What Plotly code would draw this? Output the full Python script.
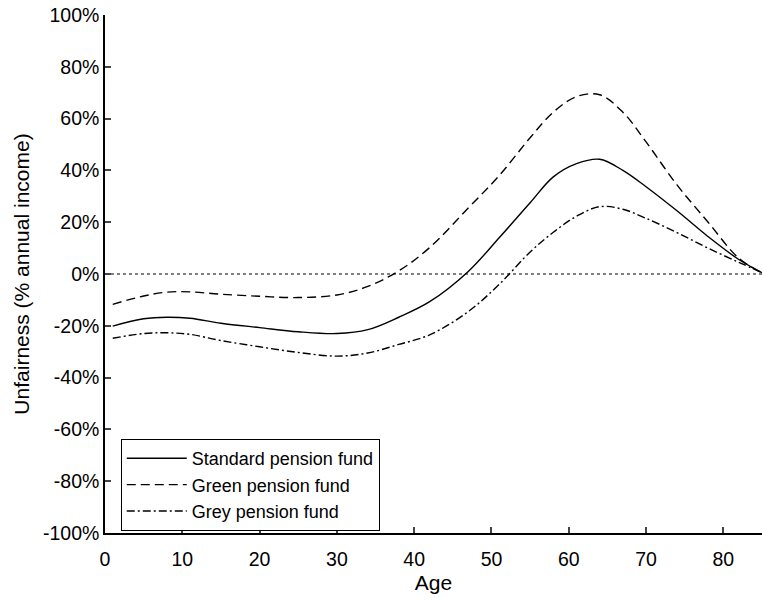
import plotly.graph_objects as go

ages = [1, 5, 8, 11, 15, 20, 25, 30, 34, 38, 42, 47, 51, 55, 58, 61, 64, 67, 70, 74, 78, 82, 85]
standard = [-20.1, -17.3, -16.7, -17.1, -19.0, -20.7, -22.3, -23.0, -21.5, -16.7, -10.7, 1.0,
            14.0, 27.5, 37.5, 42.6, 44.3, 40.0, 33.7, 24.4, 14.5, 5.6, 0.5]
green = [-11.7, -8.5, -7.0, -6.9, -7.8, -8.6, -9.1, -8.1, -4.8, 1.2, 10.2, 25.5,
         38.0, 52.6, 62.5, 68.5, 69.2, 62.5, 51.0, 34.4, 20.1, 6.1, 0.5]
grey = [-24.8, -23.0, -22.7, -23.3, -25.7, -28.1, -30.3, -31.7, -30.5, -27.2, -23.5, -14.5,
        -4.0, 8.5, 16.1, 22.3, 26.0, 25.0, 21.5, 16.0, 10.0, 4.5, 0.5]

names = ["Standard pension fund", "Green pension fund", "Grey pension fund"]
y_ticks = list(range(-100, 101, 20))
y_tick_labels = [f"{v}%" for v in y_ticks]
x_ticks = list(range(0, 81, 10))

FONT = "Liberation Sans, Arial, sans-serif"

fig = go.Figure()
for vals, name, dash in [(standard, names[0], "solid"),
                         (green, names[1], "9px,5px"),
                         (grey, names[2], "8px,3px,2px,3px")]:
    fig.add_trace(go.Scatter(x=ages, y=vals, name=name, mode="lines",
                             line=dict(color="black", width=1.4, dash=dash, shape="spline", smoothing=1.0)))

fig.add_hline(y=0, line=dict(color="black", width=1, dash="dot"), layer="below")

fig.update_layout(
    width=762, height=602,
    margin=dict(l=105, r=0, t=15, b=69),
    paper_bgcolor="white", plot_bgcolor="white",
    font=dict(family=FONT, size=19.5, color="black"),
    showlegend=True,
    legend=dict(x=0.024, y=0.1815, xanchor="left", yanchor="top",
                bordercolor="black", borderwidth=1, bgcolor="white",
                font=dict(size=18, family=FONT), tracegroupgap=0, itemwidth=60),
    xaxis=dict(range=[0, 85], tickvals=x_ticks, ticks="inside", ticklen=6, tickwidth=1.5,
               showline=True, linecolor="black", linewidth=1.5, showgrid=False, zeroline=False,
               automargin=False, ticklabelstandoff=8, ticklabeloverflow="allow",
               title=dict(text="Age", font=dict(size=21), standoff=6), tickfont=dict(size=19.5)),
    yaxis=dict(range=[-100, 100], tickvals=y_ticks, ticktext=y_tick_labels, ticks="inside",
               ticklen=6, tickwidth=1.5, showline=True, linecolor="black", linewidth=1.5,
               showgrid=False, zeroline=False, automargin=False, ticklabeloverflow="allow",
               title=dict(text="Unfairness (% annual income)", font=dict(size=21), standoff=8),
               tickfont=dict(size=19.5)),
)

# remove the default page margin so the 762x602 figure fills the window exactly
fig.write_html("out.html",
               config={"displayModeBar": False},
               post_script="document.body.style.margin='0px';document.body.style.overflow='hidden';")
